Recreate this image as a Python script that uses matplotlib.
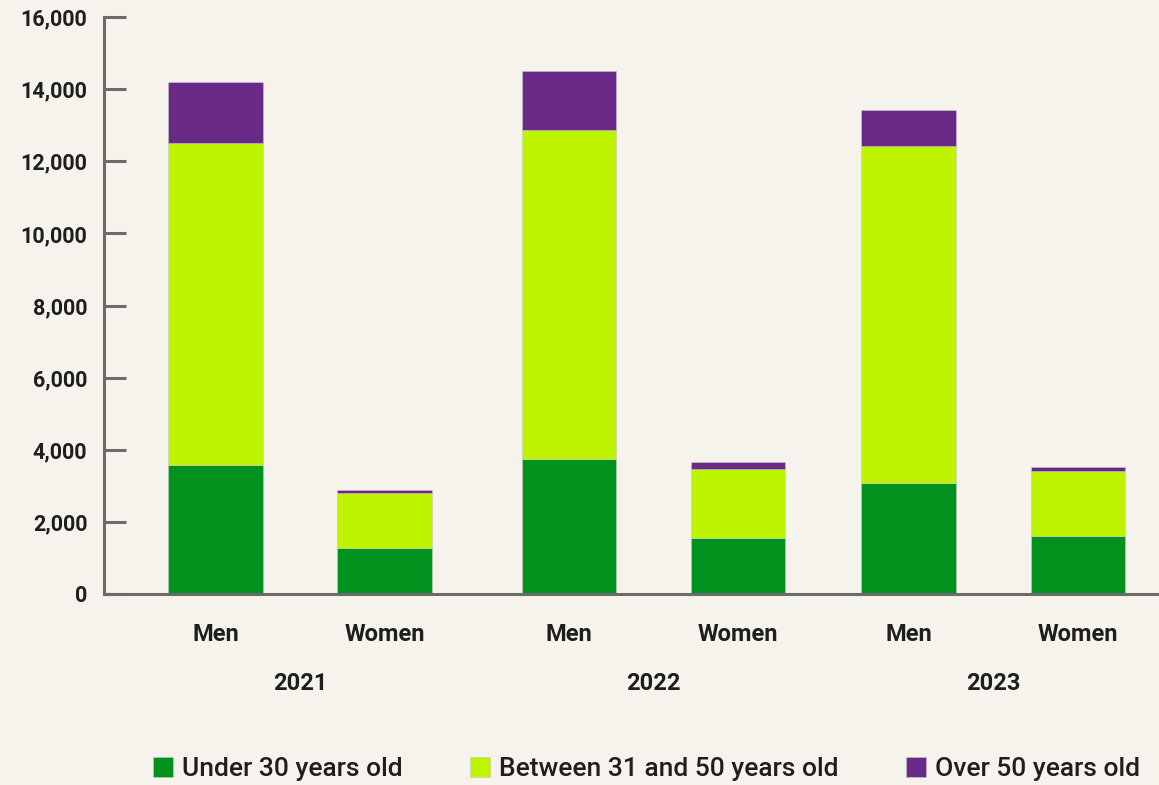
import numpy as np
import matplotlib.pyplot as plt
from matplotlib.transforms import blended_transform_factory

# data
years = ["2021", "2022", "2023"]
genders = ["Men", "Women", "Men", "Women", "Men", "Women"]
under_30 = [3580, 1270, 3730, 1545, 3090, 1600]
between_31_50 = [8920, 1520, 9150, 1920, 9320, 1810]
over_50 = [1690, 90, 1610, 200, 1020, 115]

series_names = ["Under 30 years old", "Between 31 and 50 years old", "Over 50 years old"]
colors = ["#00921c", "#bff400", "#682a86"]
bg = "#f6f3ed"
txt = "#1e1e1e"

plt.rcParams['font.family'] = ['Roboto', 'DejaVu Sans']
plt.rcParams['font.weight'] = 'bold'

fig = plt.figure(figsize=(11.59, 7.85), dpi=100, facecolor=bg)
ax = fig.add_axes([104 / 1159, 191 / 785, 1 - 104 / 1159, 577 / 785])
ax.set_facecolor(bg)

x = np.array([0, 1, 2.09, 3.09, 4.1, 5.1])
w = 0.56
bottom = np.zeros(len(x))
for vals, name, c in zip([under_30, between_31_50, over_50], series_names, colors):
    ax.bar(x, vals, w, bottom=bottom, color=c, label=name, edgecolor="#c8c8c0", linewidth=0.4)
    bottom += np.array(vals)

ax.set_xlim(-0.66, 5.58)
ax.set_ylim(0, 16000)
ax.set_yticks(np.arange(0, 16001, 2000))
ax.yaxis.set_major_formatter(plt.FuncFormatter(lambda v, p: f"{int(v):,}"))
ax.tick_params(axis='y', direction='in', length=16, width=2.2, color="#6b6b6b",
               labelsize=15.5, labelcolor=txt, pad=12)

ax.set_xticks(x)
ax.set_xticklabels(genders, fontsize=17, color=txt, fontweight='bold')
ax.tick_params(axis='x', length=0, pad=21)
for lab in ax.get_yticklabels():
    lab.set_fontweight('bold')

trans = blended_transform_factory(ax.transData, ax.transAxes)
for i, yr in enumerate(years):
    xc = (x[2 * i] + x[2 * i + 1]) / 2
    ax.text(xc, -0.155, yr, transform=trans, ha='center', va='center',
            fontsize=17, color=txt, fontweight='bold')

for s in ['top', 'right']:
    ax.spines[s].set_visible(False)
for s in ['left', 'bottom']:
    ax.spines[s].set_color("#6b6b6b")
    ax.spines[s].set_linewidth(2.2)

leg = fig.legend(loc='center', bbox_to_anchor=(0.558, 16 / 785), ncol=3,
                 frameon=False, handlelength=0.75, handleheight=0.8,
                 handletextpad=0.35, columnspacing=2.55,
                 prop={'family': 'Roboto', 'weight': 'medium', 'size': 19})
for t in leg.get_texts():
    t.set_color(txt)

fig.savefig("out.png", dpi=100, facecolor=bg)
